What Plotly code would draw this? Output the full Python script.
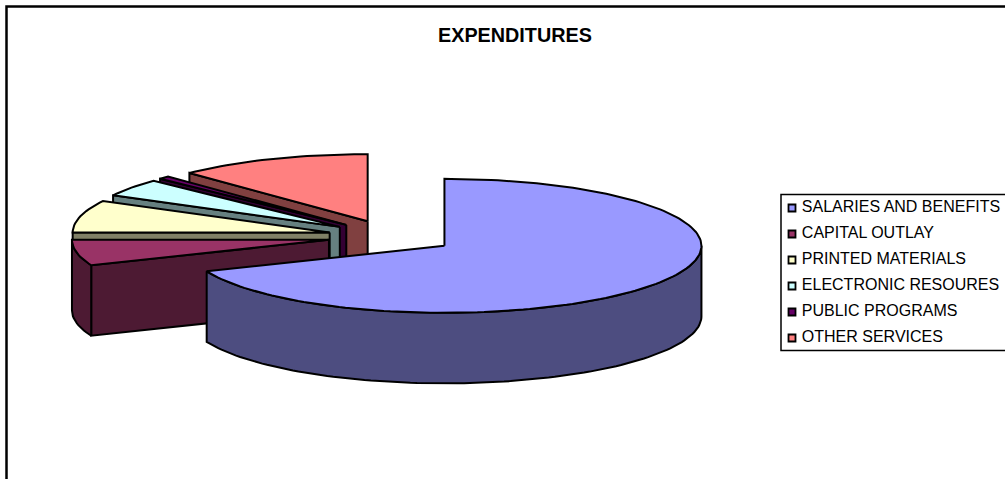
import math
import plotly.graph_objects as go

# Annual expenditure shares, percent of total, clockwise from twelve o'clock
categories = ["SALARIES AND BENEFITS", "CAPITAL OUTLAY", "PRINTED MATERIALS",
              "ELECTRONIC RESOURES", "PUBLIC PROGRAMS", "OTHER SERVICES"]
shares = [68.8, 6.2, 7.8, 4.3, 0.7, 12.2]
top_colors = ["#9999FF", "#993366", "#FFFFCC", "#CCFFFF", "#660066", "#FF8080"]
side_colors = ["#4D4D80", "#4D1A33", "#808066", "#668080", "#330033", "#804040"]

# Projection of the tilted disc onto the page
CX, CY = 391.5, 236.6
RX, RY = 257.0, 67.0
DEPTH = 70.5
EXPLODE = 0.248
OUTLINE = 2.0


def rim(apex, deg):
    t = math.radians(deg)
    return apex[0] + RX * math.sin(t), apex[1] - RY * math.cos(t)


def arc(apex, a0, a1):
    n = max(2, int(abs(a1 - a0) / 1.5) + 1)
    return [rim(apex, a0 + (a1 - a0) * i / (n - 1)) for i in range(n)]


def polygon(pts, color, name):
    xs = [p[0] for p in pts] + [pts[0][0]]
    ys = [p[1] for p in pts] + [pts[0][1]]
    return go.Scatter(x=xs, y=ys, mode="lines", fill="toself", fillcolor=color,
                      line=dict(color="black", width=OUTLINE), name=name,
                      hoverinfo="name", showlegend=False)


def drop(pts):
    return [(x, y + DEPTH) for x, y in pts]


# Angular extent and exploded apex of each wedge
wedges = []
start = 0.0
total = sum(shares)
for i, share in enumerate(shares):
    end = start + share / total * 360.0
    mid = math.radians((start + end) / 2)
    apex = (CX + EXPLODE * RX * math.sin(mid), CY - EXPLODE * RY * math.cos(mid))
    wedges.append((i, start, end, apex))
    start = end

fig = go.Figure()

# Farther wedges first: the salaries wedge is nearest the viewer, then capital outlay,
# and the remaining wedges recede clockwise towards the top of the disc.
for i, a0, a1, apex in reversed(wedges):
    name = categories[i]
    if math.sin(math.radians(a0)) < -1e-6:
        p = rim(apex, a0)
        fig.add_trace(polygon([apex, p, (p[0], p[1] + DEPTH), (apex[0], apex[1] + DEPTH)],
                              side_colors[i], name))
    if math.sin(math.radians(a1)) > 1e-6:
        p = rim(apex, a1)
        fig.add_trace(polygon([apex, p, (p[0], p[1] + DEPTH), (apex[0], apex[1] + DEPTH)],
                              side_colors[i], name))
    # Outer wall is only seen on the near half of the rim
    f0, f1 = max(a0, 90.0), min(a1, 270.0)
    if f1 > f0:
        outer = arc(apex, f0, f1)
        fig.add_trace(polygon(outer + drop(outer)[::-1], side_colors[i], name))
    fig.add_trace(polygon([apex] + arc(apex, a0, a1), top_colors[i], name))

# Legend keys and labels
LEG_X, LEG_Y, LEG_STEP = 792.0, 208.0, 26.0
for i, label in enumerate(categories):
    y = LEG_Y + i * LEG_STEP
    fig.add_trace(go.Scatter(
        x=[LEG_X], y=[y], mode="markers+text", text=[" " + label], textposition="middle right",
        textfont=dict(family="Liberation Sans", size=16, color="black"),
        marker=dict(symbol="square", size=7, color=top_colors[i],
                    line=dict(color="black", width=1.8)),
        name=label, hoverinfo="name", showlegend=False, cliponaxis=False))

fig.update_layout(
    width=1005, height=479,
    margin=dict(l=0, r=0, t=0, b=0),
    paper_bgcolor="white", plot_bgcolor="white",
    showlegend=False,
    xaxis=dict(range=[0, 1005], visible=False, fixedrange=True),
    yaxis=dict(range=[479, 0], visible=False, fixedrange=True),
    shapes=[
        dict(type="rect", xref="x", yref="y", x0=6.5, y0=6.5, x1=1015, y1=490,
             line=dict(color="black", width=2.5), layer="below"),
        dict(type="rect", xref="x", yref="y", x0=781, y0=194.5, x1=1015, y1=350.5,
             line=dict(color="black", width=1.5), layer="below"),
    ],
    annotations=[dict(text="<b>EXPENDITURES</b>", x=514.5, y=35, xref="x", yref="y",
                      showarrow=False, xanchor="center", yanchor="middle",
                      font=dict(family="Liberation Sans", size=19.8, color="black"))],
)

fig.write_html("out.html", config={"displayModeBar": False})
